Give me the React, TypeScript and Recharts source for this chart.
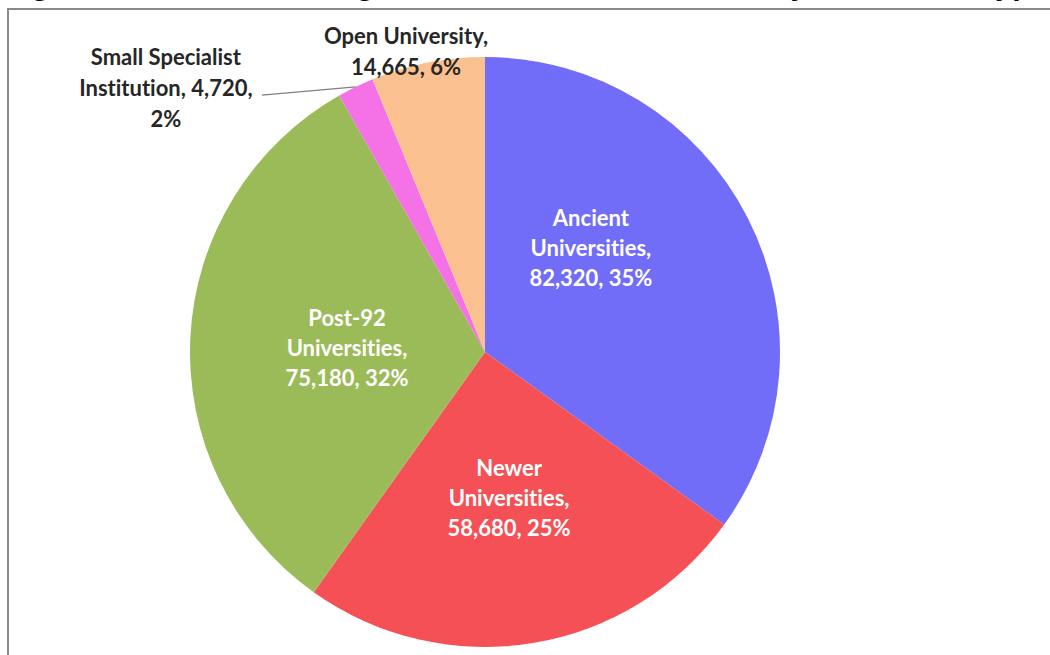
import React from 'react';
import { PieChart, Pie, Cell } from 'recharts';

// categories and values
const categories = [
  'Ancient Universities',
  'Newer Universities',
  'Post-92 Universities',
  'Small Specialist Institution',
  'Open University',
];
const students = [82320, 58680, 75180, 4720, 14665];
const colors = ['#716DF8', '#F45055', '#9BBB59', '#F572E6', '#FAC08F'];

// how many words go on each label line
const wordsPerLine = [[1, 1, 2], [1, 1, 2], [1, 1, 2], [2, 2, 1], [2, 2]];

// label placement: angle (deg, from 3 o'clock ccw) and distance as a share of the radius
const labelPlace = [
  { angle: 44.7, r: 0.505, inside: true },
  { angle: -80.6, r: 0.5, inside: true },
  { angle: 178, r: 0.468, inside: true },
  { angle: 140.3, r: 1.406, inside: false },
  { angle: 104.7, r: 1.055, inside: false },
];

const data = categories.map((name, i) => ({ name, value: students[i] }));
const total = students.reduce((a, b) => a + b, 0);

const RAD = Math.PI / 180;

function splitLines(text: string, pattern: number[]) {
  const words = text.split(' ');
  const out: string[] = [];
  let k = 0;
  pattern.forEach((n) => {
    out.push(words.slice(k, k + n).join(' '));
    k += n;
  });
  return out;
}

const renderLabel = (props: any) => {
  const { cx, cy, outerRadius, midAngle, index, value } = props;
  const pct = Math.round((value / total) * 100);
  const text = `${categories[index]}, ${value.toLocaleString('en-US')}, ${pct}%`;
  const lines = splitLines(text, wordsPerLine[index]);
  const p = labelPlace[index];
  const x = cx + outerRadius * p.r * Math.cos(p.angle * RAD);
  const y = cy - outerRadius * p.r * Math.sin(p.angle * RAD);
  const lh = p.inside ? 30 : 31;
  const top = y - ((lines.length - 1) * lh) / 2;
  let leader = null;
  if (index === 3) {
    const ex = cx + outerRadius * Math.cos(midAngle * RAD);
    const ey = cy - outerRadius * Math.sin(midAngle * RAD);
    leader = <line x1={x + 96} y1={y + 8} x2={ex} y2={ey} stroke="#7f7f7f" strokeWidth={1.3} />;
  }
  return (
    <g>
      {leader}
      <text
        x={x}
        y={top}
        textAnchor="middle"
        fill={p.inside ? '#ffffff' : '#262626'}
        fontFamily="Lato, 'Open Sans', sans-serif"
        fontWeight={700}
        fontSize={22}
        style={{ fontVariantLigatures: 'none' }}
      >
        {lines.map((l, i) => (
          <tspan key={i} x={x} y={top + i * lh} dominantBaseline="central">{l}</tspan>
        ))}
      </text>
    </g>
  );
};

export default function App() {
  return (
    <div style={{ position: 'absolute', left: 0, top: 0, width: 1050, height: 655, overflow: 'hidden', background: '#fff' }}>
      <svg width={1050} height={20} style={{ position: 'absolute', left: 0, top: 0 }}>
        <text
          x={3}
          y={-5}
          textLength={1045}
          lengthAdjust="spacing"
          fontFamily="'Liberation Sans', Arial, sans-serif"
          fontWeight={700}
          fontSize={30}
          fill="#000"
        >
          Figure 2: Students at Higher Education Institutions by Institution Type
        </text>
      </svg>
      <div style={{ position: 'absolute', left: 7, top: 8, width: 1100, height: 700, borderLeft: '2px solid #8a8a8a', borderTop: '2px solid #8a8a8a' }} />
      <div style={{ position: 'absolute', left: 0, top: 0 }}>
        <PieChart width={1050} height={655}>
          <Pie
            data={data}
            dataKey="value"
            nameKey="name"
            cx={480}
            cy={347}
            outerRadius={295}
            startAngle={90}
            endAngle={-270}
            stroke="none"
            label={renderLabel}
            labelLine={false}
            isAnimationActive={false}
          >
            {data.map((d, i) => (
              <Cell key={i} fill={colors[i]} />
            ))}
          </Pie>
        </PieChart>
      </div>
    </div>
  );
}
